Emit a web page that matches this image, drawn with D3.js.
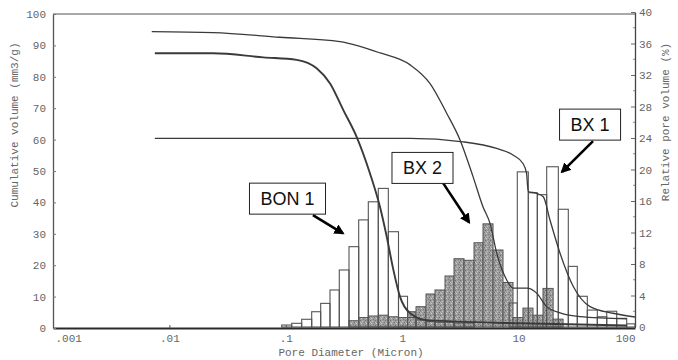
<!DOCTYPE html>
<html>
<head>
<meta charset="utf-8">
<script src="https://cdn.jsdelivr.net/npm/d3@7"></script>
<style>
  body { margin: 0; background: #fff; }
  svg { display: block; }
  .tick text, .axis-title { font-family: "Liberation Mono", "DejaVu Sans Mono", monospace; font-size: 11px; fill: #666; }
  .label-box text { font-family: "Liberation Sans", Arial, sans-serif; font-size: 18px; fill: #111; }
</style>
</head>
<body>
<script>
//Declare consts
        const width = 678;
        const height = 360;

//Axis ticks
const diamTicks = [0.001, 0.01, 0.1, 1, 10, 100];
const diamLabels = [".001", ".01", ".1", "1", "10", "100"];
const cumTicks = [0, 10, 20, 30, 40, 50, 60, 70, 80, 90, 100];
const relTicks = [0, 4, 8, 12, 16, 20, 24, 28, 32, 36, 40];
const relMinor = [2, 6, 10, 14, 18, 22, 26, 30, 34, 38];

//Histograms (relative pore volume %), bin edges in micron
const bon1Edges = [0.0922, 0.1124, 0.1369, 0.1669, 0.1994, 0.2397, 0.2881, 0.3491, 0.4229, 0.5115, 0.6232, 0.7599, 0.9294, 1.111, 1.314, 1.601, 1.913, 2.332, 2.786, 3.396, 4.139];
const bon1Vals  = [0.25, 0.47, 0.98, 1.94, 3.0, 4.7, 7.24, 10.2, 13.6, 15.9, 17.6, 12.1, 3.9, 1.2, 0.9, 0.7, 0.6, 0.6, 0.5, 0.5];

const bx2Edges = [0.3491, 0.4229, 0.5115, 0.6232, 0.7599, 0.9294, 1.111, 1.314, 1.601, 1.913, 2.332, 2.786, 3.396, 4.139, 4.945, 6.028, 7.345, 8.953, 10.9, 13.3, 16.2, 19.8, 24.1];
const bx2Vals  = [0.8, 1.2, 1.4, 1.5, 1.3, 1.2, 1.94, 2.58, 4.19, 4.7, 6.48, 8.67, 8.47, 10.7, 13.1, 9.78, 5.65, 1.2, 2.4, 1.5, 4.9, 1.0];

const bx1Edges = [8.3, 9.745, 12.12, 14.48, 17.43, 21.94, 26.73, 31.93, 38.93, 47.45, 57.15, 69.65, 84.86, 100];
const bx1Vals  = [3.05, 19.7, 17.05, 16.8, 20.35, 14.95, 7.7, 3.9, 2.15, 1.3, 2.0, 1.1, 0.4];

//Cumulative curves (mm3/g)
const bon1CurveD = [0.0075, 0.0238, 0.0641, 0.124, 0.184, 0.24, 0.312, 0.406, 0.528, 0.644, 0.736, 0.84, 0.957, 1.17, 1.62, 10.3, 85];
const bon1CurveV = [87.5, 87.5, 86.2, 85.4, 82.7, 77.9, 69.4, 60.9, 49.3, 38.6, 29.1, 18.5, 10, 4.7, 2.5, 1.5, 0.8];

const bx2CurveD = [0.00705, 0.0237, 0.089, 0.292, 0.646, 1.17, 1.73, 2.41, 3.14, 4.06, 4.94, 5.68, 6.48, 7.9, 8.95, 11.8, 14.3, 17.4, 22.7, 33.6, 85];
const bx2CurveV = [94.4, 94.1, 92.6, 91.2, 87.6, 83.8, 77.9, 68.4, 59.9, 48.2, 38.6, 33.3, 23.9, 15.3, 12.7, 12.7, 11.1, 6.8, 4.8, 3.6, 2.9];

const bx1CurveD = [0.0075, 1.17, 3.33, 6.48, 8.95, 10.9, 11.7, 12.1, 14.3, 16.3, 18.6, 22.7, 29.5, 41.1, 64.7, 100];
const bx1CurveV = [60.4, 60.4, 59.3, 57.2, 55.1, 52.4, 49.3, 43.4, 42.9, 41.8, 34.4, 23.8, 13.2, 6.8, 4.7, 3.5];

//Sample labels: name, box centre (micron, %), arrow start and tip (micron, %)
const labelNames = ["BON 1", "BX 2", "BX 1"];
const labelAt    = [[0.1034, 16.3], [1.494, 20.2], [41.1, 25.7]];
const arrowFrom  = [[0.171, 14.2], [2.24, 18.3], [43.6, 23.6]];
const arrowTo    = [[0.309, 11.9], [3.75, 13.3], [23.6, 19.7]];

//Scales
        const xScale = d3.scaleLog()
                        .domain([0.001, 100])
                        .range([53, 635]);
        const yLeft = d3.scaleLinear()
                        .domain([0, 100])
                        .range([328, 14]);
        const yRight = d3.scaleLinear()
                        .domain([0, 40])
                        .range([327, 12]);

         const svg = d3.select("body")
            .append("svg")
            .attr("width", width)
            .attr("height", height);

//stipple pattern for the grey bars
    const defs = svg.append("defs");
    const pat = defs.append("pattern")
        .attr("id", "stipple")
        .attr("width", 5).attr("height", 5)
        .attr("patternUnits", "userSpaceOnUse");
    pat.append("rect").attr("width", 5).attr("height", 5).attr("fill", "#9c9c9c");
    [[0,0,"#6e6e6e"],[2,1,"#c4c4c4"],[4,2,"#707070"],[1,3,"#d0d0d0"],[3,4,"#7a7a7a"],[0,2,"#b8b8b8"]].forEach(p => {
        pat.append("rect").attr("x", p[0]).attr("y", p[1]).attr("width", 1).attr("height", 1).attr("fill", p[2]);
    });

    function bins(edges, vals) {
        return vals.map((v, i) => ({lo: edges[i], hi: edges[i + 1], v: v}));
    }

//Grey BX 2 bars
    svg.append("g").selectAll("rect")
        .data(bins(bx2Edges, bx2Vals))
        .join("rect")
        .attr("x", d => xScale(d.lo))
        .attr("width", d => xScale(d.hi) - xScale(d.lo))
        .attr("y", d => yRight(d.v))
        .attr("height", d => yRight(0) - yRight(d.v))
        .attr("fill", "url(#stipple)")
        .attr("stroke", "#555")
        .attr("stroke-width", 1);

//Open bars BON 1 and BX 1
    [[bon1Edges, bon1Vals], [bx1Edges, bx1Vals]].forEach(s => {
        svg.append("g").selectAll("rect")
            .data(bins(s[0], s[1]))
            .join("rect")
            .attr("x", d => xScale(d.lo))
            .attr("width", d => xScale(d.hi) - xScale(d.lo))
            .attr("y", d => yRight(d.v))
            .attr("height", d => yRight(0) - yRight(d.v))
            .attr("fill", "none")
            .attr("stroke", "#555")
            .attr("stroke-width", 1.1);
    });

//Lines
    const line = d3.line()
                    .x(d => xScale(d[0]))
                    .y(d => yLeft(d[1]))
                    .curve(d3.curveMonotoneX);
    const curves = [
        [bx2CurveD, bx2CurveV, 1.3],
        [bon1CurveD, bon1CurveV, 1.9],
        [bx1CurveD, bx1CurveV, 1.3]
    ];
    curves.forEach(c => {
        svg.append("path")
            .datum(c[0].map((d, i) => [d, c[1][i]]))
            .attr("fill", "none")
            .attr("stroke", "#3a3a3a")
            .attr("stroke-width", c[2])
            .attr("d", line);
    });

//Frame
    svg.append("line")
        .attr("x1", xScale(0.001)).attr("x2", xScale(100))
        .attr("y1", yLeft(100)).attr("y2", yLeft(100))
        .attr("stroke", "#555").attr("stroke-width", 1.2);

//Axes
    const bottomAxis = d3.axisBottom(xScale)
        .tickValues(diamTicks)
        .tickFormat((d, i) => diamLabels[i])
        .tickSize(-3).tickSizeOuter(0).tickPadding(6);
    const gx = svg.append("g")
        .attr("transform", "translate(0," + yLeft(0) + ")")
        .call(bottomAxis);
    gx.select(".domain").attr("stroke", "#2a2a2a").attr("stroke-width", 2.2);
    gx.selectAll(".tick line").attr("stroke", "#555");
    gx.selectAll(".tick text").attr("text-anchor", (d, i) => i === 0 ? "start" : (i === diamTicks.length - 1 ? "end" : "middle"))
        .attr("dx", (d, i) => i === 0 ? 2 : 0);

    const leftAxis = d3.axisLeft(yLeft)
        .tickValues(cumTicks)
        .tickSize(-3).tickSizeOuter(0).tickPadding(7);
    const gl = svg.append("g")
        .attr("transform", "translate(" + xScale(0.001) + ",0)")
        .call(leftAxis);
    gl.select(".domain").attr("stroke", "#555").attr("stroke-width", 1.3);
    gl.selectAll(".tick line").attr("stroke", "#777");

    const rightAxis = d3.axisRight(yRight)
        .tickValues(relTicks)
        .tickSize(-4).tickSizeOuter(0).tickPadding(4);
    const gr = svg.append("g")
        .attr("transform", "translate(" + xScale(100) + ",0)")
        .call(rightAxis);
    gr.select(".domain").attr("stroke", "#444").attr("stroke-width", 1.3);
    gr.selectAll(".tick line").attr("stroke", "#666");
    gr.selectAll(".minor")
        .data(relMinor)
        .join("line")
        .attr("x1", -2).attr("x2", 0)
        .attr("y1", d => yRight(d)).attr("y2", d => yRight(d))
        .attr("stroke", "#888");

//Axis titles
    svg.append("text")
        .attr("class", "axis-title")
        .attr("text-anchor", "middle")
        .attr("transform", "translate(18,125) rotate(-90)")
        .text("Cumulative volume (mm3/g)");
    svg.append("text")
        .attr("class", "axis-title")
        .attr("text-anchor", "middle")
        .attr("transform", "translate(669,122) rotate(-90)")
        .text("Relative pore volume (%)");
    svg.append("text")
        .attr("class", "axis-title")
        .attr("text-anchor", "middle")
        .attr("x", 351).attr("y", 356)
        .text("Pore Diameter (Micron)");

//Labels with arrows
    defs.append("marker")
        .attr("id", "head")
        .attr("viewBox", "0 0 10 10")
        .attr("refX", 8).attr("refY", 5)
        .attr("markerWidth", 4).attr("markerHeight", 4)
        .attr("orient", "auto")
        .append("path").attr("d", "M0,0L10,5L0,10z").attr("fill", "#000");

    labelNames.forEach((name, i) => {
        svg.append("line")
            .attr("x1", xScale(arrowFrom[i][0])).attr("y1", yRight(arrowFrom[i][1]))
            .attr("x2", xScale(arrowTo[i][0])).attr("y2", yRight(arrowTo[i][1]))
            .attr("stroke", "#000").attr("stroke-width", 2.6)
            .attr("marker-end", "url(#head)");
        const g = svg.append("g").attr("class", "label-box");
        const t = g.append("text")
            .attr("x", xScale(labelAt[i][0]))
            .attr("y", yRight(labelAt[i][1]))
            .attr("text-anchor", "middle")
            .attr("dy", "0.35em")
            .text(name);
        const bb = t.node().getBBox();
        g.insert("rect", "text")
            .attr("x", bb.x - 11).attr("y", yRight(labelAt[i][1]) - 15.5)
            .attr("width", bb.width + 22).attr("height", 31)
            .attr("fill", "#fff").attr("stroke", "#222").attr("stroke-width", 1);
    });
</script>
</body>
</html>
